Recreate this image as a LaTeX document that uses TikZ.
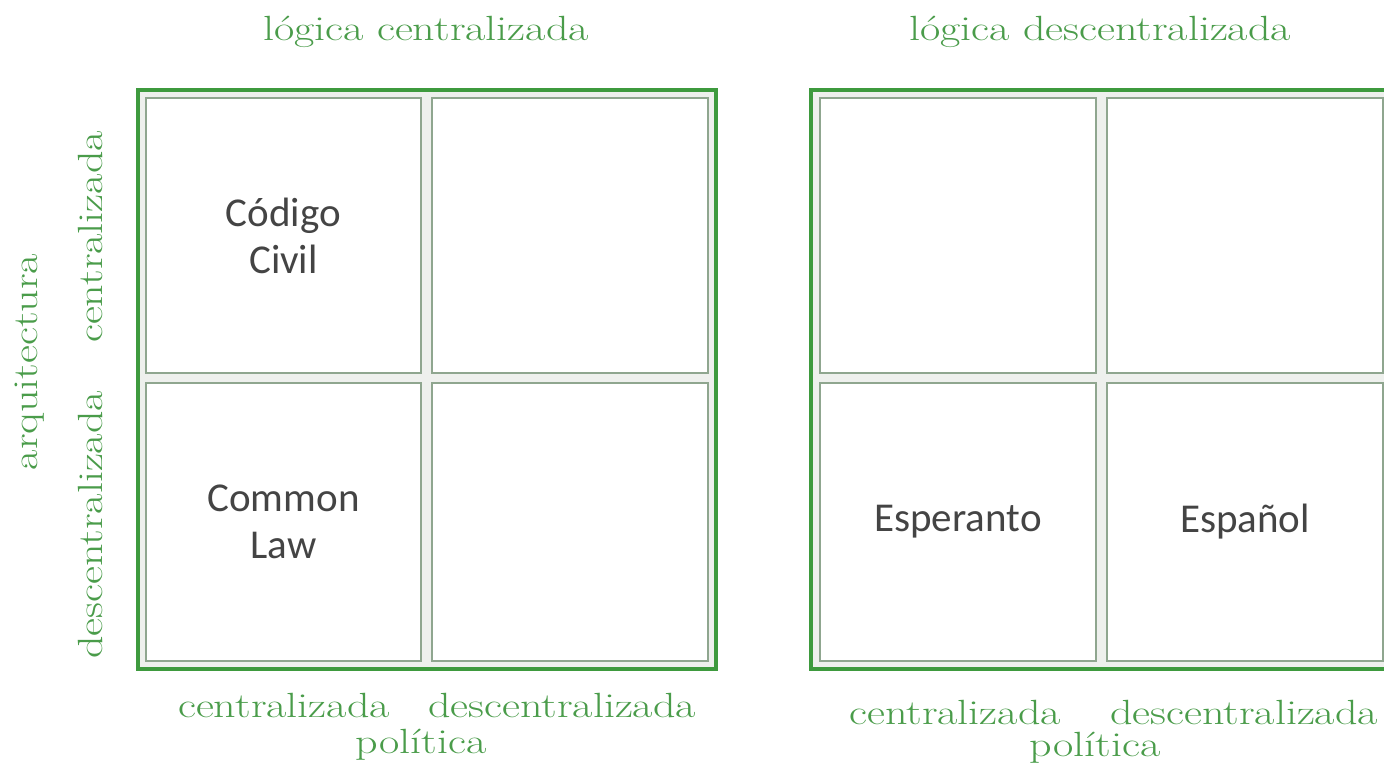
\documentclass[tikz,border=0pt]{standalone}
\usepackage{fontspec}
\usepackage{graphicx}
\newfontfamily\cellfont{Carlito}
\definecolor{framegreen}{HTML}{3E9A3E}
\definecolor{labelgreen}{HTML}{4A9C4A}
\definecolor{gapgray}{HTML}{EEF0ED}
\definecolor{cellline}{HTML}{8FA68F}
\definecolor{celltext}{HTML}{444444}
\newcommand{\glab}[1]{\scalebox{1.26}[1]{#1}}
\begin{document}
\begin{tikzpicture}[x=1pt,y=-1pt,
  frame/.style={draw=framegreen, line width=4.5pt, fill=gapgray},
  cell/.style={draw=cellline, line width=1.2pt, fill=white, align=center,
    text=celltext, font=\cellfont\fontsize{41}{47}\selectfont, inner sep=0pt},
  lab/.style={text=labelgreen, font=\fontsize{35}{40}\selectfont, inner sep=0pt}]
\clip (0,0) rectangle (1384,768);
\fill[white] (0,0) rectangle (1384,768);
% left frame
\draw[frame] (138,90) rectangle (716,669);
\node[cell, minimum width=275pt, minimum height=275pt] (lc1) at (283.5,235.5) {Código\\Civil};
\node[cell, minimum width=276pt, minimum height=275pt] (lc2) at (570,235.5) {};
\node[cell, minimum width=275pt, minimum height=278pt] (lc3) at (283.5,522) {Common\\Law};
\node[cell, minimum width=276pt, minimum height=278pt] (lc4) at (570,522) {};
% right frame
\draw[frame] (811,90) rectangle (1396,669);
\node[cell, minimum width=276pt, minimum height=275pt] (rc1) at (958,235.5) {};
\node[cell, minimum width=276pt, minimum height=275pt] (rc2) at (1245,235.5) {};
\node[cell, minimum width=276pt, minimum height=278pt] (rc3) at (958,522) {Esperanto};
\node[cell, minimum width=276pt, minimum height=278pt] (rc4) at (1245,522) {Español};
% labels
\node[lab] (t1) at (426,32) {\glab{lógica centralizada}};
\node[lab] (t2) at (1100,32) {\glab{lógica descentralizada}};
\node[lab, rotate=90] (v1) at (30,362) {\glab{arquitectura}};
\node[lab, rotate=90] (v2) at (90,237) {\glab{centralizada}};
\node[lab, rotate=90] (v3) at (90,525) {\glab{descentralizada}};
\node[lab] (b1) at (284,705) {\glab{centralizada}};
\node[lab] (b2) at (562,705) {\glab{descentralizada}};
\node[lab] (b3) at (421,745) {\glab{política}};
\node[lab] (b4) at (955,712) {\glab{centralizada}};
\node[lab] (b5) at (1244,712) {\glab{descentralizada}};
\node[lab] (b6) at (1095,748) {\glab{política}};
\end{tikzpicture}
\end{document}
